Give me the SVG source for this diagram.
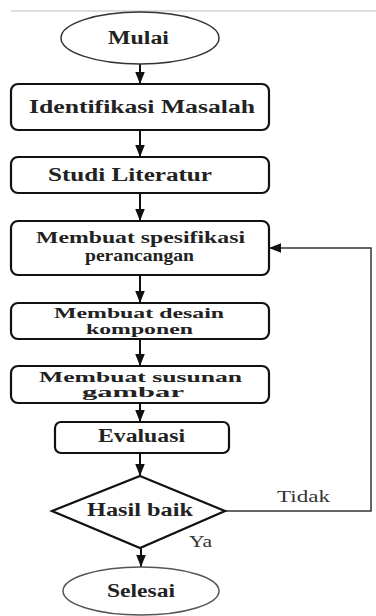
<svg xmlns="http://www.w3.org/2000/svg" width="376" height="616" viewBox="0 0 376 616">
<style>
.box{fill:#fff;stroke:#111;stroke-width:2.2}
.t{font-family:"Liberation Serif","DejaVu Serif","Times New Roman",serif;font-weight:bold;font-size:18px;fill:#222}
.s{font-size:15px}
.m{font-size:16px}
.l{font-family:"Liberation Serif","DejaVu Serif","Times New Roman",serif;font-size:17px;fill:#333}
.c{stroke:#111;stroke-width:2;fill:none}
.c2{stroke:#333;stroke-width:1.5;fill:none}
</style>
<defs>
<marker id="ah2" viewBox="0 0 10 10" refX="10" refY="5" markerWidth="12" markerHeight="12" orient="auto" markerUnits="userSpaceOnUse">
<path d="M0,1 L10,5 L0,9 z" fill="#111"/>
</marker>
</defs>
<line x1="11" y1="11" x2="376" y2="11" stroke="#bbb" stroke-width="1"/>
<g id="connectors">
<line class="c" x1="140" y1="64" x2="140" y2="84" marker-end="url(#ah2)"/>
<line class="c" x1="140" y1="130" x2="140" y2="157" marker-end="url(#ah2)"/>
<line class="c" x1="140" y1="193" x2="140" y2="221" marker-end="url(#ah2)"/>
<line class="c" x1="140" y1="275" x2="140" y2="303" marker-end="url(#ah2)"/>
<line class="c" x1="140" y1="339" x2="140" y2="366" marker-end="url(#ah2)"/>
<line class="c" x1="140" y1="403" x2="140" y2="422" marker-end="url(#ah2)"/>
<line class="c" x1="140" y1="453" x2="140" y2="476" marker-end="url(#ah2)"/>
<line class="c" x1="141" y1="548" x2="141" y2="567" marker-end="url(#ah2)"/>
<polyline class="c2" points="225,511 371,511 371,248 269,248" marker-end="url(#ah2)"/>
<text class="l" x="277" y="502" textLength="53" lengthAdjust="spacingAndGlyphs">Tidak</text>
<text class="l" x="189" y="547" textLength="23" lengthAdjust="spacingAndGlyphs">Ya</text>
</g>
<g id="mulai">
<ellipse cx="140" cy="38" rx="79" ry="26" fill="#fff" stroke="#333" stroke-width="1.5"/>
<text class="t" x="108" y="44" textLength="61" lengthAdjust="spacingAndGlyphs">Mulai</text>
</g>
<g id="identifikasi">
<rect class="box" x="11" y="84" width="258" height="46" rx="7"/>
<text class="t" x="29" y="113" textLength="226" lengthAdjust="spacingAndGlyphs">Identifikasi Masalah</text>
</g>
<g id="studi">
<rect class="box" x="11" y="157" width="258" height="36" rx="7"/>
<text class="t" x="48" y="181" textLength="164" lengthAdjust="spacingAndGlyphs">Studi Literatur</text>
</g>
<g id="spesifikasi">
<rect class="box" x="11" y="221" width="258" height="54" rx="7"/>
<text class="t m" x="36" y="243" textLength="209" lengthAdjust="spacingAndGlyphs">Membuat spesifikasi</text>
<text class="t m" x="85" y="261" textLength="109" lengthAdjust="spacingAndGlyphs">perancangan</text>
</g>
<g id="desain">
<rect class="box" x="11" y="303" width="258" height="36" rx="7"/>
<text class="t s" x="54" y="318" textLength="170" lengthAdjust="spacingAndGlyphs">Membuat desain</text>
<text class="t s" x="86" y="334" textLength="107" lengthAdjust="spacingAndGlyphs">komponen</text>
</g>
<g id="susunan">
<rect class="box" x="11" y="366" width="258" height="37" rx="7"/>
<text class="t s" x="39" y="382" textLength="203" lengthAdjust="spacingAndGlyphs">Membuat susunan</text>
<text class="t s" x="82" y="397" textLength="102" lengthAdjust="spacingAndGlyphs">gambar</text>
</g>
<g id="evaluasi">
<rect class="box" x="55" y="422" width="174" height="31" rx="6"/>
<text class="t" x="98" y="442" textLength="87" lengthAdjust="spacingAndGlyphs">Evaluasi</text>
</g>
<g id="hasil">
<polygon points="140,476 225,511 140,548 52,511" fill="#fff" stroke="#111" stroke-width="2.2"/>
<text class="t" x="87" y="516" textLength="106" lengthAdjust="spacingAndGlyphs">Hasil baik</text>
</g>
<g id="selesai">
<ellipse cx="141" cy="591" rx="78" ry="24" fill="#fff" stroke="#555" stroke-width="1.5"/>
<text class="t" x="107" y="597" textLength="68" lengthAdjust="spacingAndGlyphs">Selesai</text>
</g>
</svg>
